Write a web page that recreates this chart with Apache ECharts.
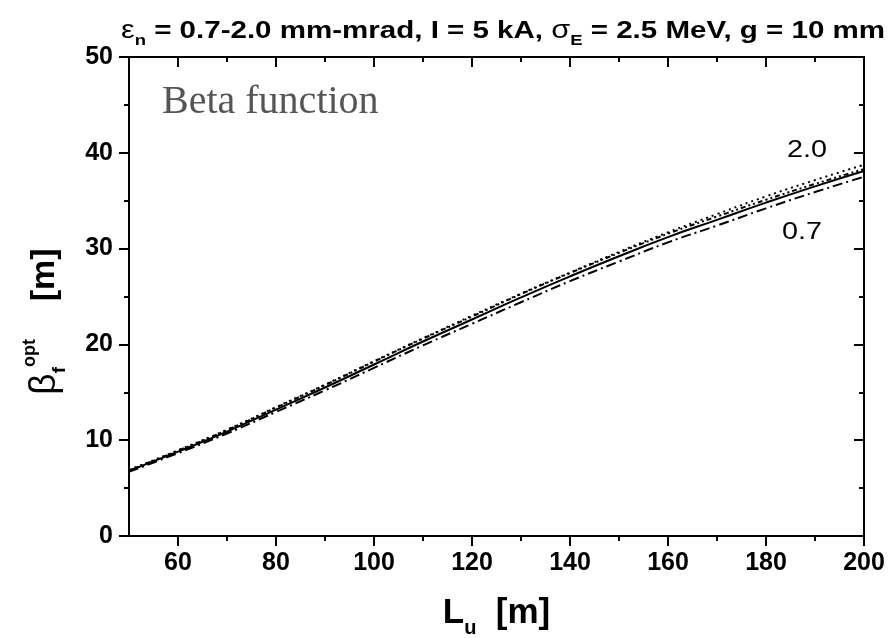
<!DOCTYPE html>
<html>
<head>
<meta charset="utf-8">
<script src="https://cdn.jsdelivr.net/npm/echarts@6/dist/echarts.min.js"></script>
<style>
	html, body { margin: 0; padding: 0; background: #fff; }
	#chart { width: 891px; height: 638px; }
</style>
</head>
<body>
<div id="chart"></div>
<script>
	// undulator length L_u [m]
	var lengths = [50, 60, 70, 80, 90, 100, 110, 120, 130, 140, 150, 160, 170, 180, 190, 200];
	// optimal beta function [m] for different emittances
	var betaEps07 = [6.7, 8.65, 10.7, 12.95, 15.2, 17.55, 19.9, 22.15, 24.4, 26.6, 28.65, 30.65, 32.4, 34.2, 35.9, 37.5];
	var betaEps10 = [6.8, 8.8, 10.9, 13.2, 15.5, 17.9, 20.3, 22.6, 24.9, 27.1, 29.2, 31.2, 33.0, 34.8, 36.5, 38.1];
	var betaEps15 = [6.85, 8.9, 11.05, 13.4, 15.75, 18.2, 20.6, 22.9, 25.25, 27.45, 29.55, 31.55, 33.35, 35.1, 36.75, 38.3];
	var betaEps20 = [6.9, 8.95, 11.1, 13.45, 15.8, 18.25, 20.65, 23.0, 25.3, 27.5, 29.65, 31.7, 33.6, 35.45, 37.15, 38.75];
	// tick positions
	var xMajorTicks = [60, 80, 100, 120, 140, 160, 180, 200];
	var xMinorTicks = [70, 90, 110, 130, 150, 170, 190];
	var yTicks = [0, 10, 20, 30, 40, 50];

	var FONT = '"Liberation Sans", Arial, sans-serif';

	function toPairs(ys) {
		var out = [];
		for (var i = 0; i < lengths.length; i++) {
			out.push([lengths[i], ys[i]]);
		}
		return out;
	}

	function lineSeries(name, ys, dash) {
		return {
			name: name,
			type: 'line',
			smooth: true,
			symbol: 'none',
			data: toPairs(ys),
			lineStyle: { color: '#000', width: 2, type: dash },
			z: 3
		};
	}

	//x axis helper, bottom/top, major or minor ticks
	function xAxisOf(position, ticks, len, withLabels) {
		return {
			type: 'value',
			position: position,
			min: 50,
			max: 200,
			axisLine: { show: true, lineStyle: { color: '#000', width: 2 } },
			axisTick: {
				show: true,
				customValues: ticks,
				length: len,
				inside: position === 'top',
				lineStyle: { color: '#000', width: 2 }
			},
			axisLabel: withLabels ? {
				show: true,
				customValues: xMajorTicks,
				margin: 15,
				color: '#000',
				fontFamily: FONT,
				fontWeight: 'bold',
				fontSize: 25
			} : { show: false },
			splitLine: { show: false }
		};
	}

	var chart = echarts.init(document.getElementById('chart'), null, { renderer: 'canvas' });

	var xAxes = [
		xAxisOf('bottom', xMajorTicks, 10, true),
		xAxisOf('bottom', xMinorTicks, 5, false),
		xAxisOf('top', xMajorTicks, 10, false),
		xAxisOf('top', xMinorTicks, 5, false)
	];
	xAxes[0].name = '{L|L}{u|u}{L|  [m]}';
	xAxes[0].nameLocation = 'middle';
	xAxes[0].nameGap = 52;
	xAxes[0].nameTextStyle = {
		rich: {
			L: { fontFamily: FONT, fontWeight: 'bold', fontSize: 35, color: '#000', lineHeight: 50 },
			u: { fontFamily: FONT, fontWeight: 'bold', fontSize: 20, color: '#000', lineHeight: 20, verticalAlign: 'bottom' }
		}
	};

	var option = {
		animation: false,
		backgroundColor: '#fff',
		grid: {
			left: 129,
			right: 27,
			top: 57,
			bottom: 102,
			containLabel: false,
			outerBoundsMode: 'none'
		},
		xAxis: xAxes,
		yAxis: [{
			type: 'value',
			position: 'left',
			min: 0,
			max: 50,
			interval: 10,
			axisLine: { show: true, lineStyle: { color: '#000', width: 2 } },
			axisTick: { show: true, length: 10, lineStyle: { color: '#000', width: 2 } },
			minorTick: { show: true, splitNumber: 2, length: 5, lineStyle: { color: '#000', width: 2 } },
			axisLabel: {
				margin: 16,
				color: '#000',
				fontFamily: FONT,
				fontWeight: 'bold',
				fontSize: 25,
				customValues: yTicks
			},
			splitLine: { show: false },
			name: '{b|β}{f|f}{o|opt}{m|    [m]}',
			nameLocation: 'middle',
			nameRotate: 90,
			nameGap: 60,
			nameTextStyle: {
				padding: [0, 50, 0, 0],
				rich: {
					b: { fontFamily: FONT, fontSize: 37, color: '#000', lineHeight: 48 },
					f: { fontFamily: FONT, fontWeight: 'bold', fontSize: 19, color: '#000', lineHeight: 19, verticalAlign: 'bottom' },
					o: { fontFamily: FONT, fontWeight: 'bold', fontSize: 18, color: '#000', lineHeight: 18, verticalAlign: 'top' },
					m: { fontFamily: FONT, fontWeight: 'bold', fontSize: 34, color: '#000', lineHeight: 48 }
				}
			}
		}, {
			type: 'value',
			position: 'right',
			min: 0,
			max: 50,
			interval: 10,
			axisLine: { show: true, lineStyle: { color: '#000', width: 2 } },
			axisTick: { show: true, inside: true, length: 10, lineStyle: { color: '#000', width: 2 } },
			minorTick: { show: true, splitNumber: 2, length: 5, lineStyle: { color: '#000', width: 2 } },
			axisLabel: { show: false },
			splitLine: { show: false }
		}],
		graphic: [{
			// title, a bit wider than the font like the original figure
			type: 'text',
			x: 121,
			y: 14,
			scaleX: 1.23,
			style: {
				text: '{g|ε}{s|n}{t| = 0.7-2.0 mm-mrad, I = 5 kA, }{g|σ}{s|E}{t| = 2.5 MeV, g = 10 mm}',
				rich: {
					g: { fontFamily: FONT, fontSize: 25, fill: '#000', lineHeight: 34 },
					t: { fontFamily: FONT, fontWeight: 'bold', fontSize: 24, fill: '#000', lineHeight: 34 },
					s: { fontFamily: FONT, fontWeight: 'bold', fontSize: 15, fill: '#000', lineHeight: 15, verticalAlign: 'bottom' }
				}
			}
		}, {
			type: 'text',
			left: 162,
			top: 82,
			style: {
				text: 'Beta function',
				fill: '#555',
				font: '40px "Liberation Serif", "Times New Roman", serif'
			}
		}, {
			type: 'text',
			x: 787,
			y: 139,
			scaleX: 1.25,
			style: { text: '2.0', fill: '#000', font: '23px ' + FONT }
		}, {
			type: 'text',
			x: 782,
			y: 221,
			scaleX: 1.25,
			style: { text: '0.7', fill: '#000', font: '23px ' + FONT }
		}],
		series: [
			lineSeries('0.7', betaEps07, [10, 4, 2, 4]),
			lineSeries('1.0', betaEps10, 'solid'),
			lineSeries('1.5', betaEps15, [5, 3, 2, 3, 2, 3]),
			lineSeries('2.0', betaEps20, [2, 4])
		]
	};

	chart.setOption(option);
</script>
</body>
</html>
